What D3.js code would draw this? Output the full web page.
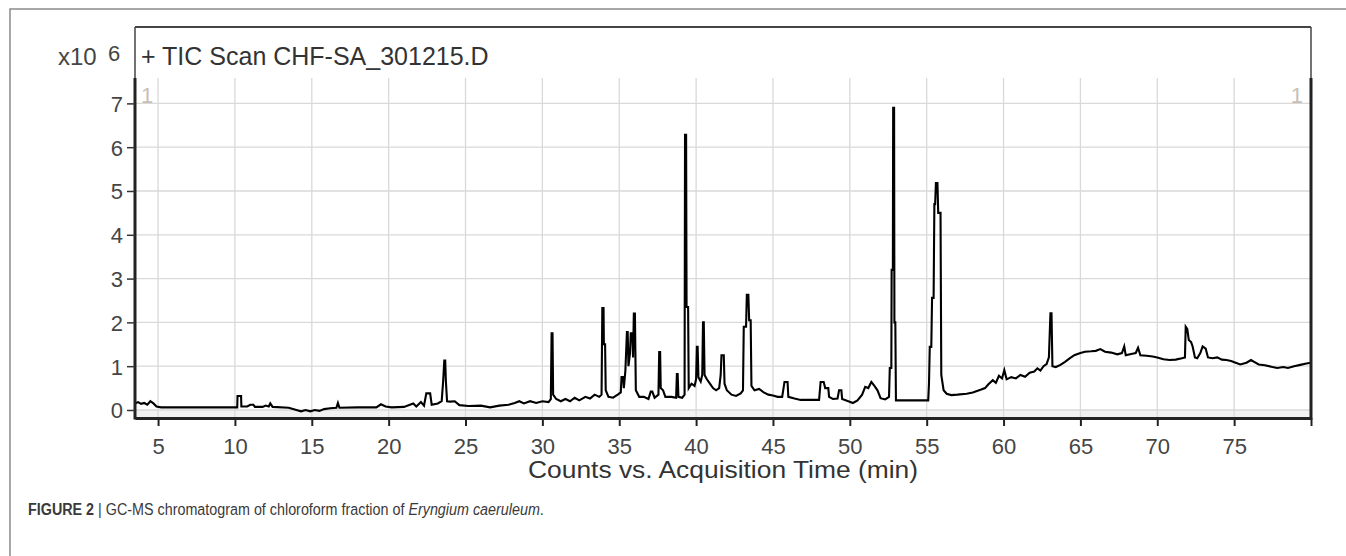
<!DOCTYPE html>
<html>
<head>
<meta charset="utf-8">
<script src="https://cdn.jsdelivr.net/npm/d3@7"></script>
<style>
  html, body { margin: 0; padding: 0; background: #fff; }
  svg { display: block; }
  text { font-family: "Liberation Sans", Arial, sans-serif; }
</style>
</head>
<body>
<svg id="chart" width="1346" height="556"></svg>
<script>
// ---------------- data ----------------
const xTicks = [5, 10, 15, 20, 25, 30, 35, 40, 45, 50, 55, 60, 65, 70, 75];
const yTicks = [0, 1, 2, 3, 4, 5, 6, 7];
const titleText = "+ TIC Scan CHF-SA_301215.D";
const xTitle = "Counts vs. Acquisition Time (min)";

// retention time (min)
const rt = [
  3.5, 3.7, 3.9, 4.1, 4.3, 4.5, 4.7, 4.9, 5.2, 6, 7, 8, 9, 10.1,
  10.15, 10.17, 10.4, 10.42, 10.8, 11.0, 11.2, 11.3, 11.8, 12.0, 12.2, 12.3, 12.45, 13.5,
  14.0, 14.3, 14.6, 14.9, 15.2, 15.5, 15.8, 16.2, 16.6, 16.7, 16.8, 18, 19.2, 19.5, 19.8,
  20.2, 21, 21.6, 21.8, 22.1, 22.3, 22.45, 22.7, 22.8, 23.2, 23.45, 23.55, 23.62, 23.68,
  23.72, 23.8, 24.0, 24.3, 24.6, 25.2, 26, 26.6, 27.2, 27.8, 28.2, 28.5, 28.8, 29.2, 29.6,
  30.0, 30.4, 30.55, 30.6, 30.66, 30.7, 30.9, 31.2, 31.5, 31.8, 32.1, 32.4, 32.8, 33.1,
  33.4, 33.7, 33.85, 33.9, 33.98, 34.0, 34.08, 34.12, 34.3, 34.6, 34.9, 35.1, 35.15, 35.25,
  35.3, 35.4, 35.5, 35.55, 35.6, 35.7, 35.75, 35.85, 35.9, 35.95, 36.02, 36.08, 36.3, 36.6,
  36.9, 37.05, 37.15, 37.3, 37.55, 37.6, 37.66, 37.7, 37.85, 38.0, 38.4, 38.7, 38.75, 38.8,
  38.85, 39.1, 39.25, 39.28, 39.35, 39.38, 39.48, 39.52, 39.7, 39.9, 40.0, 40.05, 40.1,
  40.15, 40.3, 40.4, 40.45, 40.5, 40.55, 40.7, 40.9, 41.1, 41.3, 41.5, 41.6, 41.65, 41.8,
  41.85, 42.0, 42.3, 42.6, 42.9, 43.05, 43.1, 43.25, 43.3, 43.4, 43.45, 43.55, 43.6, 43.8,
  44.1, 44.4, 44.7, 45.0, 45.3, 45.6, 45.75, 45.95, 46.0, 46.4, 46.8, 47.5, 48.0, 48.1,
  48.3, 48.4, 48.6, 48.65, 48.9, 49.2, 49.3, 49.45, 49.5, 49.9, 50.2, 50.5, 50.8, 51.0,
  51.2, 51.4, 51.6, 51.8, 52.0, 52.3, 52.55, 52.6, 52.7, 52.72, 52.8, 52.82, 52.88, 52.9,
  52.96, 53.0, 53.3, 54.2, 55.1, 55.15, 55.2, 55.3, 55.35, 55.45, 55.5, 55.55, 55.6, 55.7,
  55.75, 55.9, 55.95, 56.1, 56.3, 56.6, 57.0, 57.6, 58.0, 58.5, 58.8, 59.0, 59.3, 59.5,
  59.7, 59.9, 60.05, 60.2, 60.5, 60.8, 61.1, 61.4, 61.7, 62.0, 62.2, 62.4, 62.6, 62.8,
  62.95, 63.05, 63.12, 63.18, 63.4, 63.7, 64.0, 64.3, 64.6, 65.0, 65.3, 65.7, 66.0, 66.3,
  66.6, 67.0, 67.4, 67.7, 67.85, 67.95, 68.3, 68.6, 68.75, 68.9, 69.3, 69.7, 70.0, 70.4,
  70.8, 71.2, 71.6, 71.8, 71.85, 71.95, 72.05, 72.2, 72.3, 72.45, 72.6, 72.8, 72.95, 73.15,
  73.3, 73.6, 73.9, 74.2, 74.5, 74.8, 75.1, 75.4, 75.8, 76.1, 76.3, 76.6, 77.0, 77.5, 77.8,
  78.2, 78.5, 78.9, 79.3, 79.7, 80.0
];
// abundance (x10^6 counts)
const counts = [
  0.15, 0.18, 0.14, 0.16, 0.12, 0.2, 0.15, 0.08, 0.06, 0.06, 0.06, 0.06, 0.06, 0.06,
  0.06, 0.32, 0.32, 0.08, 0.08, 0.12, 0.12, 0.07, 0.07, 0.1, 0.08, 0.15, 0.07, 0.05,
  0.0, -0.03, 0.0, -0.03, 0.0, -0.02, 0.02, 0.04, 0.05, 0.16, 0.05, 0.06, 0.06, 0.13, 0.08,
  0.06, 0.07, 0.15, 0.08, 0.18, 0.1, 0.38, 0.38, 0.12, 0.15, 0.2, 0.68, 1.13, 1.13,
  0.68, 0.2, 0.19, 0.2, 0.11, 0.09, 0.1, 0.06, 0.1, 0.12, 0.16, 0.2, 0.15, 0.2, 0.16,
  0.2, 0.18, 0.25, 1.75, 1.75, 0.35, 0.25, 0.2, 0.25, 0.2, 0.28, 0.22, 0.3, 0.26,
  0.35, 0.3, 0.35, 2.33, 2.33, 1.5, 1.5, 0.45, 0.3, 0.28, 0.35, 0.4, 0.75, 0.75,
  0.5, 0.9, 1.78, 1.78, 1.0, 1.3, 1.75, 1.75, 1.2, 2.2, 2.2, 0.45, 0.3, 0.3,
  0.25, 0.42, 0.42, 0.28, 0.35, 1.32, 1.32, 0.5, 0.45, 0.3, 0.3, 0.28, 0.82, 0.82,
  0.3, 0.28, 0.35, 6.28, 6.28, 2.35, 2.35, 0.5, 0.6, 0.55, 0.7, 1.44, 1.44,
  0.75, 0.65, 0.8, 2.0, 2.0, 0.8, 0.7, 0.6, 0.5, 0.45, 0.5, 0.8, 1.25, 1.25,
  0.6, 0.45, 0.35, 0.32, 0.38, 0.45, 1.9, 1.9, 2.63, 2.63, 2.05, 2.05, 0.55, 0.45,
  0.48, 0.4, 0.35, 0.33, 0.3, 0.3, 0.64, 0.64, 0.3, 0.26, 0.23, 0.23, 0.23, 0.64,
  0.64, 0.5, 0.5, 0.3, 0.25, 0.26, 0.45, 0.45, 0.25, 0.2, 0.16, 0.22, 0.35, 0.53,
  0.5, 0.64, 0.55, 0.45, 0.27, 0.24, 0.3, 0.96, 0.96, 3.2, 3.2, 6.9, 6.9, 2.0,
  2.0, 0.22, 0.22, 0.22, 0.22, 0.6, 1.44, 1.44, 2.56, 2.56, 4.7, 4.7, 5.18, 5.18,
  4.5, 4.5, 0.8, 0.45, 0.37, 0.34, 0.35, 0.37, 0.4, 0.46, 0.5, 0.58, 0.68, 0.62,
  0.78, 0.72, 0.91, 0.7, 0.75, 0.72, 0.8, 0.76, 0.85, 0.88, 0.95, 0.9, 1.0, 1.05,
  1.2, 2.21, 2.21, 1.0, 0.98, 1.03, 1.1, 1.18, 1.25, 1.3, 1.33, 1.34, 1.35, 1.39,
  1.33, 1.31, 1.27, 1.3, 1.45, 1.25, 1.28, 1.3, 1.42, 1.25, 1.24, 1.22, 1.2, 1.16,
  1.14, 1.15, 1.18, 1.2, 1.9, 1.85, 1.6, 1.55, 1.45, 1.2, 1.18, 1.3, 1.45, 1.4,
  1.2, 1.18, 1.2, 1.15, 1.14, 1.12, 1.08, 1.04, 1.08, 1.14, 1.1, 1.04, 1.02, 0.98, 0.96,
  0.98, 0.96, 1.0, 1.03, 1.06, 1.08
];

// ---------------- layout ----------------
const svg = d3.select("#chart");
const L = 135, R = 1311, T = 27, B = 418, gridTop = 78;

const x = d3.scaleLinear().domain([3.5, 80]).range([L, R]);
const y = d3.scaleLinear().domain([-0.183, 8.744]).range([B, T]);

// outer figure frame
svg.append("path")
  .attr("d", `M10,556 V9 H1346`)
  .attr("fill", "none").attr("stroke", "#8a8a8a").attr("stroke-width", 1.5);

// light band below zero line
svg.append("rect")
  .attr("x", L).attr("y", y(0)).attr("width", R - L).attr("height", B - y(0))
  .attr("fill", "#f1f1f1");

// grid
const grid = svg.append("g").attr("stroke", "#d9d9d9").attr("stroke-width", 1.3);
grid.selectAll("line.v").data(xTicks).join("line")
  .attr("x1", d => x(d)).attr("x2", d => x(d))
  .attr("y1", gridTop).attr("y2", B);
grid.selectAll("line.h").data(yTicks).join("line")
  .attr("x1", L).attr("x2", R)
  .attr("y1", d => y(d)).attr("y2", d => y(d));

// chromatogram trace
const pts = rt.map((t, i) => [t, counts[i]]);
svg.append("clipPath").attr("id", "clip")
  .append("rect").attr("x", L).attr("y", gridTop).attr("width", R - L).attr("height", B - gridTop);
svg.append("path")
  .datum(pts)
  .attr("clip-path", "url(#clip)")
  .attr("fill", "none")
  .attr("stroke", "#000")
  .attr("stroke-width", 2.1)
  .attr("stroke-linejoin", "miter")
  .attr("d", d3.line().x(d => x(d[0])).y(d => y(d[1])));

// frame of plot
svg.append("line").attr("x1", L).attr("x2", R).attr("y1", T).attr("y2", T)
  .attr("stroke", "#444").attr("stroke-width", 2);
svg.append("line").attr("x1", L).attr("x2", L).attr("y1", T).attr("y2", gridTop)
  .attr("stroke", "#444").attr("stroke-width", 1.5);
svg.append("line").attr("x1", R).attr("x2", R).attr("y1", T).attr("y2", gridTop)
  .attr("stroke", "#444").attr("stroke-width", 1.5);
svg.append("line").attr("x1", L).attr("x2", L).attr("y1", gridTop).attr("y2", B + 1.5)
  .attr("stroke", "#222").attr("stroke-width", 3);
svg.append("line").attr("x1", R).attr("x2", R).attr("y1", gridTop).attr("y2", B + 1.5)
  .attr("stroke", "#222").attr("stroke-width", 3);

// x axis
const xAxis = svg.append("g").attr("transform", `translate(0,${B})`)
  .call(d3.axisBottom(x).tickValues(xTicks.concat([80])).tickSize(8).tickSizeOuter(0)
    .tickFormat(d => d === 80 ? "" : d));
xAxis.select(".domain").attr("stroke", "#222").attr("stroke-width", 3);
xAxis.selectAll(".tick line").attr("stroke", "#222").attr("stroke-width", 2);
xAxis.selectAll(".tick text")
  .attr("fill", "#454545").attr("font-size", 22)
  .attr("dy", null).attr("y", 36);

// y axis
const yAxis = svg.append("g").attr("transform", `translate(${L},0)`)
  .call(d3.axisLeft(y).tickValues(yTicks).tickSize(8).tickSizeOuter(0));
yAxis.select(".domain").remove();
yAxis.selectAll(".tick line").attr("stroke", "#333").attr("stroke-width", 1.5);
yAxis.selectAll(".tick text")
  .attr("fill", "#454545").attr("font-size", 22).attr("x", -12).attr("dy", "0.36em");

// y multiplier label
svg.append("text").attr("x", 58).attr("y", 65).attr("font-size", 24).attr("fill", "#454545").text("x10");
svg.append("text").attr("x", 108).attr("y", 61).attr("font-size", 22).attr("fill", "#454545").text("6");

// title inside plot
svg.append("text").attr("x", 141).attr("y", 65).attr("font-size", 25).attr("fill", "#333")
  .text(titleText);

// "1" markers
svg.append("text").attr("x", 141).attr("y", 103).attr("font-size", 22).attr("fill", "#c8c0b8").text("1");
svg.append("text").attr("x", 1303).attr("y", 103).attr("font-size", 22).attr("fill", "#c8c0b8")
  .attr("text-anchor", "end").text("1");

// x axis title
svg.append("text").attr("x", (L + R) / 2).attr("y", 478).attr("text-anchor", "middle")
  .attr("font-size", 23).attr("fill", "#333")
  .attr("textLength", 390).attr("lengthAdjust", "spacingAndGlyphs")
  .text(xTitle);

// caption (horizontally condensed as in the reference)
const capG = svg.append("g");
const cap = capG.append("text").attr("x", 0).attr("y", 0).attr("font-size", 17).attr("fill", "#3a3a3a");
cap.append("tspan").attr("font-weight", "bold").text("FIGURE 2");
cap.append("tspan").text(" | GC-MS chromatogram of chloroform fraction of ");
cap.append("tspan").attr("font-style", "italic").text("Eryngium caeruleum");
cap.append("tspan").text(".");
const capW = cap.node().getComputedTextLength();
capG.attr("transform", `translate(28,515) scale(${516 / capW},1)`);
</script>
</body>
</html>
